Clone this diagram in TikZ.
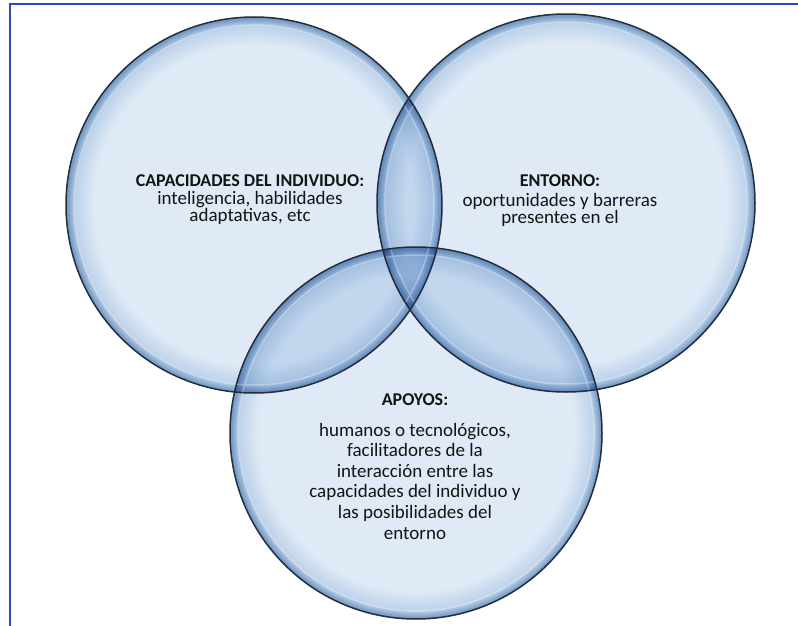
\documentclass[tikz,border=0pt]{standalone}
\usepackage{fontspec}
\setmainfont{Carlito}

\definecolor{framecol}{RGB}{50,70,180}
\definecolor{bubin}{RGB}{223,234,246}
\definecolor{bubmid}{RGB}{190,211,234}
\definecolor{bubrim}{RGB}{120,156,198}
\definecolor{edgecol}{RGB}{35,45,60}
\definecolor{txtcol}{RGB}{20,20,20}

\pgfdeclareradialshading{bubble}{\pgfpoint{0bp}{0bp}}{%
  color(0bp)=(bubin); color(21.2bp)=(bubin); color(23.8bp)=(bubmid);
  color(24.8bp)=(bubrim); color(25bp)=(bubrim); color(50bp)=(bubrim)}

\begin{document}
\begin{tikzpicture}[x=1pt,y=-1pt,
  lbl/.style={text=txtcol,font=\fontsize{19}{17.5}\selectfont,align=center,inner sep=0pt},
  head/.style={lbl,font=\fontsize{18}{18}\selectfont\bfseries}]
\useasboundingbox (0,0) rectangle (798,626);

% frame
\draw[framecol,line width=1.4pt] (10,626) -- (10,4) -- (798,4);

% circles
\begin{scope}[blend group=multiply]
  \shade[shading=bubble] (254,205) circle (188);
  \shade[shading=bubble] (566,203) circle (189);
  \shade[shading=bubble] (416,433) circle (186);
\end{scope}
\draw[white,opacity=0.3,line width=1.5pt] (254,205) circle (180) (566,203) circle (181)
      (416,433) circle (178);
\draw[edgecol,line width=1.5pt] (254,205) circle (188) (566,203) circle (189)
      (416,433) circle (186);

% labels
\node[head] (capT) at (250,181) {CAPACIDADES DEL INDIVIDUO:};
\node[lbl] (capB) at (250,208) {inteligencia, habilidades\\adaptativas, etc};

\node[head] (entT) at (560,181) {ENTORNO:};
\node[lbl] (entB) at (560,210) {oportunidades y barreras\\presentes en el};

\node[head] (apoT) at (415,400) {APOYOS:};
\node[lbl,font=\fontsize{19}{20.6}\selectfont] (apoB) at (415,481)
  {humanos o tecnológicos,\\facilitadores de la\\interacción entre las\\capacidades del individuo y\\las posibilidades del\\entorno};

\end{tikzpicture}
\end{document}
